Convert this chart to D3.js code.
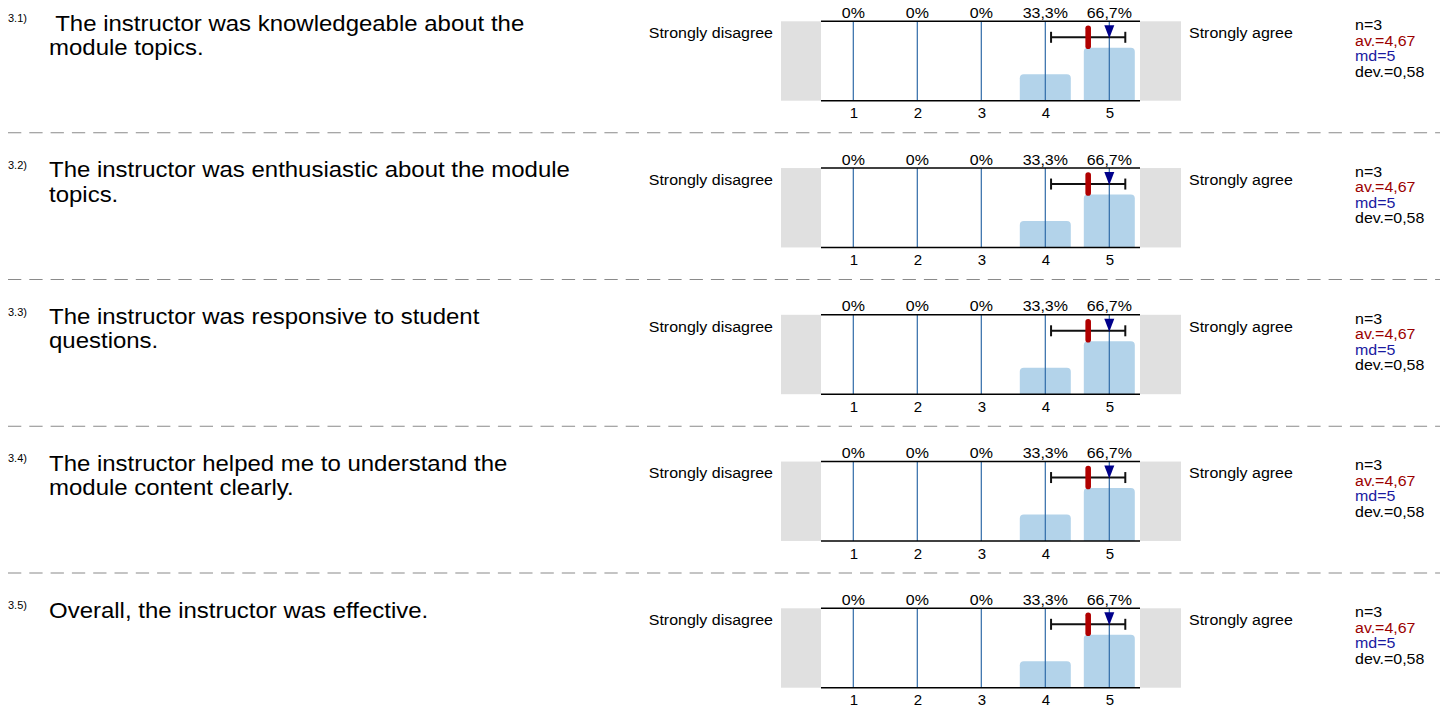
<!DOCTYPE html>
<html>
<head>
<meta charset="utf-8">
<script src="https://cdn.jsdelivr.net/npm/d3@7"></script>
<style>
  body { margin: 0; background: #fff; }
  svg { display: block; font-family: "Liberation Sans", Arial, sans-serif; }
  text { white-space: pre; }
</style>
</head>
<body>
<svg id="main" width="1440" height="706"></svg>
<script>
// data
const itemNumbers = ["3.1)", "3.2)", "3.3)", "3.4)", "3.5)"];
const questions = [
    " The instructor was knowledgeable about the module topics.",
    "The instructor was enthusiastic about the module topics.",
    "The instructor was responsive to student questions.",
    "The instructor helped me to understand the module content clearly.",
    "Overall, the instructor was effective."
];
const categories = [1, 2, 3, 4, 5];
const percents = [
    [0, 0, 0, 33.3, 66.7],
    [0, 0, 0, 33.3, 66.7],
    [0, 0, 0, 33.3, 66.7],
    [0, 0, 0, 33.3, 66.7],
    [0, 0, 0, 33.3, 66.7]
];
const nValues = [3, 3, 3, 3, 3];
const means = [4.67, 4.67, 4.67, 4.67, 4.67];
const medians = [5, 5, 5, 5, 5];
const deviations = [0.58, 0.58, 0.58, 0.58, 0.58];
const leftLabel = "Strongly disagree";
const rightLabel = "Strongly agree";

const PANEL_STEP = 146.75;
const CHART_TOP = 21.3;
const CHART_H = 79.4;
const CHART_LEFT = 821;
const CHART_RIGHT = 1140;
const GREY_W = 40;
const SMALL = 15, SMALL_SX = 1.065;   // the reference text runs a bit wider than Liberation Sans
const BIG = 22, BIG_SX = 1.09;

const fmt = v => String(v).replace(".", ",");

const svg = d3.select("#main");

// category positions: 1 at 853, spacing 64
const x = d3.scaleLinear().domain([1, 5]).range([853.3, 1109.3]);
const y = d3.scaleLinear().domain([0, 100]).range([CHART_H, 0]);

// text placed through a transform so it can be stretched sideways
function putText(parent, tx, ty, size, sx) {
    return parent.append("text")
        .attr("transform", "translate(" + tx + "," + ty + ") scale(" + sx + ",1)")
        .attr("font-size", size);
}

function wrapText(textSel, str, width) {
    const words = str.split(/(?<=\S) /);
    let line = [];
    let tspan = textSel.append("tspan").attr("x", 0).attr("dy", 0);
    words.forEach(w => {
        line.push(w);
        tspan.text(line.join(" "));
        if (tspan.node().getComputedTextLength() > width && line.length > 1) {
            line.pop();
            tspan.text(line.join(" "));
            line = [w];
            tspan = textSel.append("tspan").attr("x", 0).attr("dy", 24.5).text(w);
        }
    });
}

questions.forEach((q, i) => {
    const g = svg.append("g").attr("transform", "translate(0," + (i * PANEL_STEP) + ")");

    // separator above (not for first)
    if (i > 0) {
        g.append("line")
            .attr("x1", 8).attr("x2", 1440)
            .attr("y1", -14).attr("y2", -14)
            .attr("stroke", "#8a8a8a").attr("stroke-width", 1.2)
            .attr("stroke-dasharray", "13.3 8");
    }

    // question number + text
    g.append("text").attr("x", 8).attr("y", 22)
        .attr("font-size", 11).attr("fill", "#000").text(itemNumbers[i]);
    const qt = putText(g, 49, 30.5, BIG, BIG_SX).attr("fill", "#000");
    wrapText(qt, q, 528 / BIG_SX);

    // side labels
    putText(g, 773, 38, SMALL, SMALL_SX).attr("text-anchor", "end").text(leftLabel);
    putText(g, 1189, 38, SMALL, SMALL_SX).text(rightLabel);

    // grey end boxes
    g.append("rect").attr("x", CHART_LEFT - GREY_W).attr("y", CHART_TOP)
        .attr("width", GREY_W).attr("height", CHART_H).attr("fill", "#e0e0e0");
    g.append("rect").attr("x", CHART_RIGHT).attr("y", CHART_TOP)
        .attr("width", GREY_W + 1).attr("height", CHART_H).attr("fill", "#e0e0e0");

    const chart = g.append("g").attr("transform", "translate(0," + CHART_TOP + ")");
    const rows = categories.map((c, k) => ({ c: c, p: percents[i][k] }));

    // bars with rounded tops
    const bw = 51, r = 4;
    chart.selectAll(".bar").data(rows.filter(d => d.p > 0)).join("path")
        .attr("class", "bar")
        .attr("fill", "#b3d3ea")
        .attr("d", d => {
            const x0 = x(d.c) - bw / 2, x1 = x(d.c) + bw / 2;
            const top = y(d.p), bot = y(0);
            return "M" + x0 + "," + bot + "V" + (top + r) +
                "Q" + x0 + "," + top + " " + (x0 + r) + "," + top +
                "H" + (x1 - r) + "Q" + x1 + "," + top + " " + x1 + "," + (top + r) +
                "V" + bot + "Z";
        });

    // vertical category lines
    chart.selectAll(".grid").data(categories).join("line")
        .attr("class", "grid")
        .attr("x1", d => x(d)).attr("x2", d => x(d))
        .attr("y1", 0).attr("y2", CHART_H)
        .attr("stroke", "#2f6aa8").attr("stroke-width", 1.2);

    // frame lines top/bottom
    [0, CHART_H].forEach(yy => {
        chart.append("line").attr("x1", CHART_LEFT).attr("x2", CHART_RIGHT)
            .attr("y1", yy).attr("y2", yy)
            .attr("stroke", "#000").attr("stroke-width", 1.5);
    });

    // percent labels
    chart.selectAll(".pct").data(rows).join("text")
        .attr("class", "pct")
        .attr("transform", d => "translate(" + x(d.c) + ",-3.5) scale(" + SMALL_SX + ",1)")
        .attr("text-anchor", "middle").attr("font-size", SMALL)
        .text(d => fmt(d.p) + "%");

    // axis tick labels
    const axis = d3.axisBottom(x).tickValues(categories).tickSize(0).tickPadding(7)
        .tickFormat(d3.format("d"));
    chart.append("g").attr("transform", "translate(0," + CHART_H + ")").call(axis)
        .call(a => a.select(".domain").remove())
        .call(a => a.selectAll("text").attr("font-size", SMALL).attr("fill", "#000")
            .attr("font-family", "Liberation Sans, Arial, sans-serif"));

    // deviation bar
    const ey = 16;
    const lo = x(means[i] - deviations[i]), hi = x(means[i] + deviations[i]);
    chart.append("line").attr("x1", lo).attr("x2", hi).attr("y1", ey).attr("y2", ey)
        .attr("stroke", "#111").attr("stroke-width", 2);
    [lo, hi].forEach(xx => {
        chart.append("line").attr("x1", xx).attr("x2", xx)
            .attr("y1", ey - 5.5).attr("y2", ey + 5.5)
            .attr("stroke", "#111").attr("stroke-width", 2);
    });

    // mean marker
    chart.append("rect")
        .attr("x", x(means[i]) - 2.8).attr("y", ey - 11.8)
        .attr("width", 5.6).attr("height", 23.6).attr("rx", 2.8)
        .attr("fill", "#b00000");

    // median triangle
    const mx = x(medians[i]);
    chart.append("path")
        .attr("d", "M" + (mx - 5) + "," + (ey - 12) + "L" + (mx + 5) + "," + (ey - 12) +
            "L" + mx + "," + (ey + 1) + "Z")
        .attr("fill", "#00008b");

    // stats
    const stats = [
        { t: "n=" + nValues[i], c: "#000" },
        { t: "av.=" + fmt(means[i]), c: "#9b0000" },
        { t: "md=" + fmt(medians[i]), c: "#1a1aa0" },
        { t: "dev.=" + fmt(deviations[i]), c: "#000" }
    ];
    g.selectAll(".stat").data(stats).join("text")
        .attr("class", "stat")
        .attr("transform", (d, k) => "translate(1355," + (30 + k * 15.5) + ") scale(" + SMALL_SX + ",1)")
        .attr("font-size", SMALL).attr("fill", d => d.c)
        .text(d => d.t);
});
</script>
</body>
</html>
